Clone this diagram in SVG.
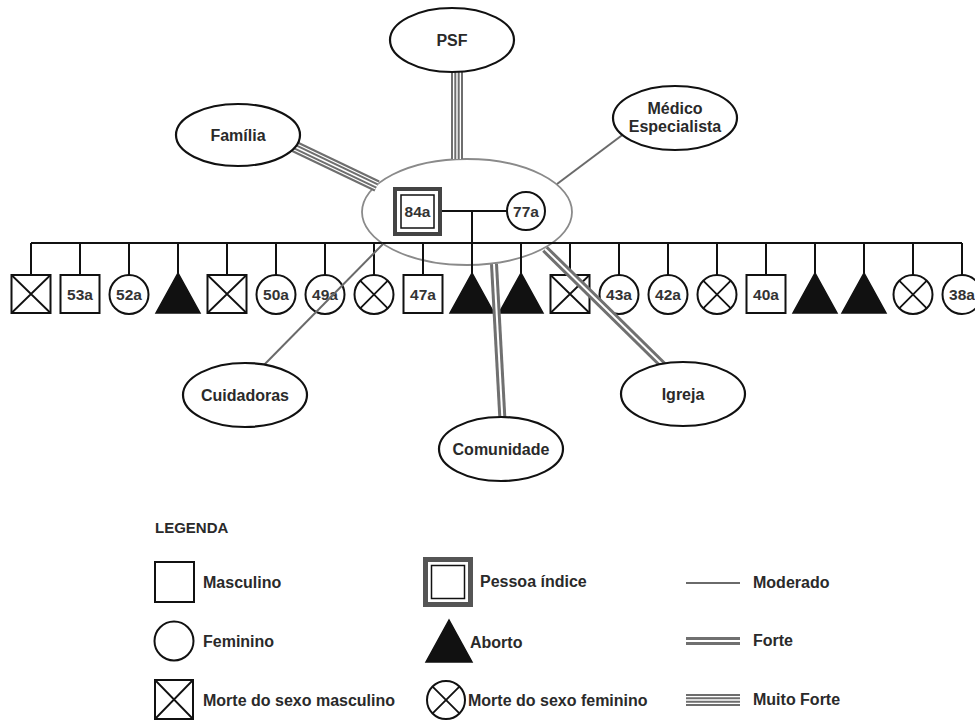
<svg xmlns="http://www.w3.org/2000/svg" width="975" height="724" viewBox="0 0 975 724">
<style>
.n{fill:#fff;stroke:#111;stroke-width:2}
.x{stroke:#111;stroke-width:1.8;fill:none}
.ab{fill:#111;stroke:#111;stroke-width:1.5;stroke-linejoin:miter}
.ell{fill:#fff;stroke:#111;stroke-width:2.2}
.t{font-family:"Liberation Sans",Arial,Helvetica,sans-serif;font-weight:bold;font-size:16px;fill:#2a2a2a;text-anchor:middle}
.ts{font-size:15.5px;fill:#333}
.tl{text-anchor:start}
.ln{stroke:#111;stroke-width:2;fill:none}
.mod{stroke:#6a6a6a;stroke-width:2;fill:none}
.f1{stroke:#707070;stroke-width:8}
.f2{stroke:#fff;stroke-width:2}
.m1{stroke:#6e6e6e;stroke-width:12}
.m2{stroke:#fff;stroke-width:8}
.m3{stroke:#6e6e6e;stroke-width:5.4}
.m4{stroke:#fff;stroke-width:1.4}
</style>
<defs>
<line id="c-psf" x1="457" y1="60" x2="457" y2="159"/>
<line id="c-fam" x1="285" y1="142" x2="377" y2="186"/>
<line id="c-com" x1="503" y1="430" x2="494" y2="264"/>
<line id="c-igr" x1="668" y1="370" x2="545" y2="249"/>
<line id="lg-f" x1="686" y1="641" x2="740" y2="641"/>
<line id="lg-m" x1="686" y1="700" x2="740" y2="700"/>
</defs>

<g id="familia-nuclear">
<ellipse cx="467" cy="212" rx="105" ry="53" fill="none" stroke="#8a8a8a" stroke-width="1.8"/>
<path class="ln" d="M442 211H507M472 211V273M31 243H962"/>
<path class="ln" d="M31 243V275M80 243V275M129 243V275M178 243V273M227 243V275M276 243V275M325 243V275M374 243V275M423 243V275M521 243V273M570 243V275M619 243V275M668 243V275M717 243V275M766 243V275M815 243V273M864 243V273M913 243V275M962 243V275"/>
</g>

<g id="p84a">
<rect x="395" y="189" width="45" height="45" fill="#fff" stroke="#444" stroke-width="4"/>
<rect x="401" y="195" width="33" height="33" fill="none" stroke="#111" stroke-width="1.5"/>
<text class="t ts" x="417.5" y="217">84a</text>
</g>
<g id="p77a"><circle class="n" cx="526" cy="211" r="19"/><text class="t ts" x="526" y="216.5">77a</text></g>

<g id="f01"><rect class="n" x="11.5" y="275" width="39" height="38"/><path class="x" d="M11.5 275L50.5 313M50.5 275L11.5 313"/></g>
<g id="f02"><rect class="n" x="60.5" y="275" width="39" height="38"/><text class="t ts" x="80" y="300">53a</text></g>
<g id="f03"><circle class="n" cx="129" cy="294.5" r="19.5"/><text class="t ts" x="129" y="300">52a</text></g>
<g id="f04"><polygon class="ab" points="178,273 156,313 200,313"/></g>
<g id="f05"><rect class="n" x="207.5" y="275" width="39" height="38"/><path class="x" d="M207.5 275L246.5 313M246.5 275L207.5 313"/></g>
<g id="f06"><circle class="n" cx="276" cy="294.5" r="19.5"/><text class="t ts" x="276" y="300">50a</text></g>
<g id="f07"><circle class="n" cx="325" cy="294.5" r="19.5"/><text class="t ts" x="325" y="300">49a</text></g>
<g id="f08"><circle class="n" cx="374" cy="294.5" r="19.5"/><path class="x" d="M360.2 280.7L387.8 308.3M387.8 280.7L360.2 308.3"/></g>
<g id="f09"><rect class="n" x="403.5" y="275" width="39" height="38"/><text class="t ts" x="423" y="300">47a</text></g>
<g id="f10"><polygon class="ab" points="472,273 450,313 494,313"/></g>
<g id="f11"><polygon class="ab" points="521,273 499,313 543,313"/></g>
<g id="f12"><rect class="n" x="550.5" y="275" width="39" height="38"/><path class="x" d="M550.5 275L589.5 313M589.5 275L550.5 313"/></g>
<g id="f13"><circle class="n" cx="619" cy="294.5" r="19.5"/><text class="t ts" x="619" y="300">43a</text></g>
<g id="f14"><circle class="n" cx="668" cy="294.5" r="19.5"/><text class="t ts" x="668" y="300">42a</text></g>
<g id="f15"><circle class="n" cx="717" cy="294.5" r="19.5"/><path class="x" d="M703.2 280.7L730.8 308.3M730.8 280.7L703.2 308.3"/></g>
<g id="f16"><rect class="n" x="746.5" y="275" width="39" height="38"/><text class="t ts" x="766" y="300">40a</text></g>
<g id="f17"><polygon class="ab" points="815,273 793,313 837,313"/></g>
<g id="f18"><polygon class="ab" points="864,273 842,313 886,313"/></g>
<g id="f19"><circle class="n" cx="913" cy="294.5" r="19.5"/><path class="x" d="M899.2 280.7L926.8 308.3M926.8 280.7L899.2 308.3"/></g>
<g id="f20"><circle class="n" cx="962" cy="294.5" r="19.5"/><text class="t ts" x="962" y="300">38a</text></g>

<g id="connectors">
<use href="#c-psf" class="m1"/><use href="#c-psf" class="m2"/><use href="#c-psf" class="m3"/><use href="#c-psf" class="m4"/>
<use href="#c-fam" class="m1"/><use href="#c-fam" class="m2"/><use href="#c-fam" class="m3"/><use href="#c-fam" class="m4"/>
<line class="mod" x1="625" y1="133" x2="557" y2="184"/>
<line class="mod" x1="262" y1="367" x2="383" y2="244"/>
<use href="#c-com" class="f1"/><use href="#c-com" class="f2"/>
<use href="#c-igr" class="f1"/><use href="#c-igr" class="f2"/>
</g>

<g id="psf"><ellipse class="ell" cx="452" cy="40" rx="62" ry="32"/><text class="t" x="452" y="46">PSF</text></g>
<g id="familia"><ellipse class="ell" cx="238" cy="135" rx="62" ry="31"/><text class="t" x="238" y="141">Família</text></g>
<g id="medico"><ellipse class="ell" cx="675" cy="118" rx="62" ry="32"/><text class="t" x="675" y="114">Médico</text><text class="t" x="675" y="132">Especialista</text></g>
<g id="cuidadoras"><ellipse class="ell" cx="245" cy="395" rx="62" ry="32"/><text class="t" x="245" y="401">Cuidadoras</text></g>
<g id="comunidade"><ellipse class="ell" cx="501" cy="449" rx="62" ry="32"/><text class="t" x="501" y="455">Comunidade</text></g>
<g id="igreja"><ellipse class="ell" cx="683" cy="394" rx="62" ry="32"/><text class="t" x="683" y="400">Igreja</text></g>

<g id="legenda">
<text class="t tl" x="155" y="533" style="font-size:15px">LEGENDA</text>
<rect class="n" x="155" y="562" width="39" height="40"/>
<text class="t tl" x="203" y="588">Masculino</text>
<circle class="n" cx="174" cy="641" r="19.5"/>
<text class="t tl" x="203" y="647">Feminino</text>
<rect class="n" x="155" y="680" width="38" height="39"/>
<path class="x" d="M155 680L193 719M193 680L155 719"/>
<text class="t tl" x="203" y="706">Morte do sexo masculino</text>
<rect x="425.5" y="559.5" width="45" height="45" fill="#fff" stroke="#555" stroke-width="5"/>
<rect x="431.5" y="565.5" width="33" height="33" fill="none" stroke="#111" stroke-width="1.5"/>
<text class="t tl" x="480" y="587">Pessoa índice</text>
<polygon class="ab" points="449,620 426,662 472,662"/>
<text class="t tl" x="470" y="648">Aborto</text>
<circle class="n" cx="446" cy="700" r="19"/>
<path class="x" d="M432.6 686.6L459.4 713.4M459.4 686.6L432.6 713.4"/>
<text class="t tl" x="468" y="706">Morte do sexo feminino</text>
<line class="mod" x1="686" y1="583" x2="740" y2="583"/>
<text class="t tl" x="753" y="588">Moderado</text>
<use href="#lg-f" class="f1"/><use href="#lg-f" class="f2"/>
<text class="t tl" x="753" y="646">Forte</text>
<use href="#lg-m" class="m1"/><use href="#lg-m" class="m2"/><use href="#lg-m" class="m3"/><use href="#lg-m" class="m4"/>
<text class="t tl" x="753" y="705">Muito Forte</text>
</g>
</svg>
